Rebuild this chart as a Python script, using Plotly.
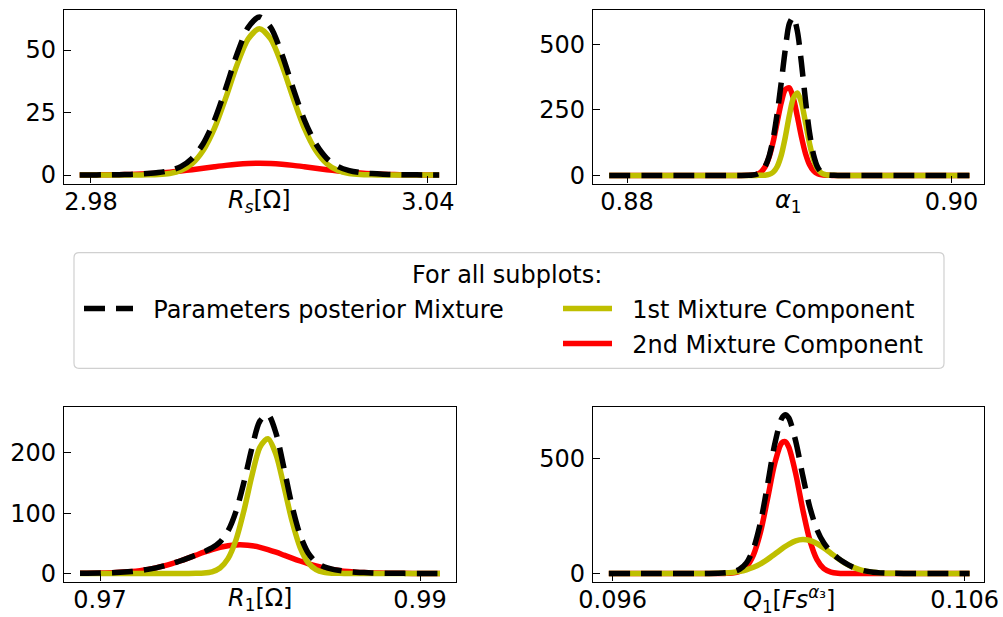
import plotly.graph_objects as go

# ---------------- data ----------------
# Panel 1 : R_s [Ohm]
rs_x = [2.978, 2.980, 2.982, 2.984, 2.986, 2.988, 2.990, 2.992, 2.994, 2.996, 2.998,
        3.000, 3.002, 3.004, 3.006, 3.008, 3.010, 3.012, 3.014, 3.016, 3.018, 3.020,
        3.022, 3.024, 3.026, 3.028, 3.030, 3.032, 3.034, 3.036, 3.038, 3.040, 3.042]
rs_mix = [0.02, 0.03, 0.06, 0.11, 0.19, 0.32, 0.56, 0.96, 1.76, 3.37, 6.63, 12.59, 22.02,
          34.68, 48.29, 59.06, 63.2, 59.06, 48.29, 34.68, 22.02, 12.59, 6.63, 3.37, 1.76,
          0.96, 0.56, 0.32, 0.19, 0.11, 0.06, 0.03, 0.02]
rs_c1 = [0, 0, 0, 0, 0, 0, 0.05, 0.18, 0.61, 1.78, 4.51, 9.89, 18.72, 30.83, 43.99, 54.46,
         58.5, 54.46, 43.99, 30.83, 18.72, 9.89, 4.51, 1.78, 0.61, 0.18, 0.05, 0, 0, 0, 0, 0, 0]
rs_c2 = [0.02, 0.03, 0.06, 0.11, 0.19, 0.32, 0.51, 0.78, 1.15, 1.59, 2.12, 2.70, 3.30, 3.85,
         4.30, 4.60, 4.70, 4.60, 4.30, 3.85, 3.30, 2.70, 2.12, 1.59, 1.15, 0.78, 0.51, 0.32,
         0.19, 0.11, 0.06, 0.03, 0.02]

# Panel 2 : alpha_1
a1_x = [0.8789, 0.8810, 0.8830, 0.8850, 0.8860, 0.8870,
        0.88750, 0.88775, 0.88800, 0.88825, 0.88850, 0.88875, 0.88900, 0.88925, 0.88950,
        0.88975, 0.89000, 0.89025, 0.89050, 0.89075, 0.89100, 0.89125, 0.89150, 0.89175,
        0.89200, 0.89225, 0.89250, 0.89275, 0.89300,
        0.8950, 0.8970, 0.8990, 0.9011]
a1_mix = [0, 0, 0, 0, 0, 0,
          0.35, 1.35, 4.5, 13.2, 33.0, 72.3, 138.7, 235.2, 353.5, 480, 580, 605, 550, 428,
          286, 162, 77, 30.6, 10.1, 2.8, 0.6, 0.1, 0.0,
          0, 0, 0, 0]
a1_c1 = [0, 0, 0, 0, 0, 0,
         0.0, 0.0, 0.03, 0.17, 0.86, 3.5, 11.9, 33.2, 76.5, 145.4, 228.2, 295.3, 315.2,
         277.6, 201.7, 120.9, 59.8, 24.4, 8.2, 2.3, 0.5, 0.1, 0.0,
         0, 0, 0, 0]
a1_c2 = [0, 0, 0, 0, 0, 0,
         0.35, 1.35, 4.5, 13.0, 32.1, 68.8, 126.8, 202.0, 277.0, 327.9, 334.8, 294.8,
         223.9, 146.7, 82.8, 40.4, 17.0, 6.2, 1.9, 0.5, 0.1, 0.0, 0.0,
         0, 0, 0, 0]

# Panel 3 : R_1 [Ohm]
r1_x = [0.96875, 0.9700, 0.9710, 0.9720, 0.9725, 0.9730, 0.9735, 0.9740, 0.9745, 0.9750,
        0.9755, 0.9760, 0.9765, 0.9770, 0.9775, 0.9780, 0.9785, 0.9790, 0.9795, 0.9800,
        0.9805, 0.9810, 0.9815, 0.9820, 0.9825, 0.9830, 0.9835, 0.9840, 0.9845, 0.9850,
        0.9855, 0.9860, 0.9865, 0.9870, 0.9880, 0.9890, 0.9900, 0.99125]
r1_mix = [0.12, 0.50, 1.34, 3.16, 4.66, 6.65, 9.22, 12.42, 16.2, 20.6, 25.4, 30.4, 35.9,
          42.3, 52.2, 70.4, 102.9, 151.8, 208.5, 252.9, 263.1, 232.5, 174.4, 112.4, 64.2,
          34.3, 18.6, 11.0, 7.06, 4.74, 3.17, 2.09, 1.34, 0.83, 0.29, 0.09, 0.03, 0.0]
r1_c1 = [0, 0, 0, 0, 0, 0, 0, 0, 0, 0.0, 0.02, 0.14, 0.67, 2.69, 8.9, 24.5, 55.6, 104.5,
         162.6, 209.6, 223.5, 197.3, 144.1, 87.1, 43.6, 18.1, 6.2, 1.76, 0.41, 0.08, 0.01,
         0, 0, 0, 0, 0, 0, 0]
r1_c2 = [0.12, 0.50, 1.34, 3.16, 4.66, 6.65, 9.22, 12.42, 16.2, 20.6, 25.35, 30.3, 35.2,
         39.6, 43.3, 45.9, 47.3, 47.3, 45.9, 43.3, 39.6, 35.2, 30.3, 25.35, 20.6, 16.2,
         12.42, 9.22, 6.65, 4.66, 3.16, 2.09, 1.34, 0.83, 0.29, 0.09, 0.03, 0.0]

# Panel 4 : Q_1 [F s^alpha_3]
q1_x = [0.09589, 0.0970, 0.0980, 0.0985, 0.0990, 0.0992, 0.0994, 0.0996, 0.0998, 0.1000,
        0.1002, 0.1004, 0.1006, 0.1008, 0.1009, 0.1010, 0.1012, 0.1014, 0.1016, 0.1018,
        0.1020, 0.1022, 0.1024, 0.1026, 0.1028, 0.1030, 0.1032, 0.1034, 0.1036, 0.1038,
        0.1040, 0.1045, 0.1050, 0.1060, 0.10614]
q1_mix = [0, 0, 0, 0.11, 1.13, 2.75, 6.92, 18.0, 46.2, 108.7, 223.2, 387.6, 561.9, 676.7,
          693.5, 679.9, 577.6, 427.2, 289.7, 192.8, 132.7, 94.6, 67.2, 45.95, 29.74, 18.0,
          10.2, 5.43, 2.69, 1.25, 0.54, 0.05, 0, 0, 0]
q1_c1 = [0, 0, 0, 0.11, 1.06, 2.32, 4.74, 9.06, 16.2, 27.0, 42.2, 61.5, 83.9, 107.0, 117.8,
         127.5, 142.1, 147.9, 144.0, 131.0, 111.4, 88.6, 65.8, 45.7, 29.7, 18.0, 10.2, 5.43,
         2.69, 1.25, 0.54, 0.05, 0, 0, 0]
q1_c2 = [0, 0, 0, 0, 0.07, 0.43, 2.18, 8.96, 30.0, 81.7, 181.0, 326.1, 478.0, 569.7, 575.7,
         552.4, 435.5, 279.3, 145.7, 61.8, 21.3, 5.98, 1.37, 0.25, 0.04, 0, 0, 0, 0, 0, 0,
         0, 0, 0, 0]

series_names = ["Parameters posterior Mixture", "1st Mixture Component", "2nd Mixture Component"]
axis_labels = ["<i>R</i><sub><i>s</i></sub>[Ω]",
               "<i>α</i><sub>1</sub>",
               "<i>R</i><sub>1</sub>[Ω]",
               "<i>Q</i><sub>1</sub>[<i>Fs</i><sup><i>α</i>₃</sup>]"]
x_tick_vals = [[2.98, 3.04], [0.88, 0.90], [0.97, 0.99], [0.096, 0.106]]
x_tick_text = [["2.98", "3.04"], ["0.88", "0.90"], ["0.97", "0.99"], ["0.096", "0.106"]]
y_tick_vals = [[0, 25, 50], [0, 250, 500], [0, 100, 200], [0, 500]]

panels = [
    (rs_x, rs_mix, rs_c1, rs_c2),
    (a1_x, a1_mix, a1_c1, a1_c2),
    (r1_x, r1_mix, r1_c1, r1_c2),
    (q1_x, q1_mix, q1_c1, q1_c2),
]

# ---------------- figure ----------------
W, H = 1003, 617
FONT = "DejaVu Sans"
FS = 24
RED, YEL, BLK = "#ff0000", "#bfbf00", "#000000"
LW = 5.5
PAD = "\u00a0\u00a0"   # extra gap between legend handle and label

x_ranges = [[2.9752, 3.0450], [0.8779, 0.9020], [0.96775, 0.99225], [0.09544, 0.10655]]
y_ranges = [[-3.4, 66.2], [-31, 634], [-13.4, 276], [-35, 727]]
x_domains = [[64 / W, 456 / W], [593 / W, 984 / W], [64 / W, 456 / W], [593 / W, 984 / W]]
y_domains = [[1 - 183.5 / H, 1 - 9.5 / H], [1 - 183.5 / H, 1 - 9.5 / H],
             [1 - 581.5 / H, 1 - 407 / H], [1 - 581.5 / H, 1 - 407 / H]]

fig = go.Figure()
for i, (xs, mix, c1, c2) in enumerate(panels):
    xa = "x" if i == 0 else f"x{i + 1}"
    ya = "y" if i == 0 else f"y{i + 1}"
    first = i == 0
    fig.add_trace(go.Scatter(x=xs, y=c2, mode="lines", name=PAD + series_names[2],
                             line=dict(color=RED, width=LW, shape="spline", smoothing=0.8),
                             xaxis=xa, yaxis=ya, showlegend=first, legend="legend3"))
    fig.add_trace(go.Scatter(x=xs, y=c1, mode="lines", name=PAD + series_names[1],
                             line=dict(color=YEL, width=LW, shape="spline", smoothing=0.8),
                             xaxis=xa, yaxis=ya, showlegend=first, legend="legend2"))
    fig.add_trace(go.Scatter(x=xs, y=mix, mode="lines", name=PAD + series_names[0],
                             line=dict(color=BLK, width=LW, dash="21px,11px",
                                       shape="spline", smoothing=0.8),
                             xaxis=xa, yaxis=ya, showlegend=first, legend="legend"))

layout = dict(
    width=W, height=H,
    margin=dict(l=0, r=0, t=0, b=0, pad=0, autoexpand=False),
    paper_bgcolor="white", plot_bgcolor="white",
    font=dict(family=FONT, size=FS, color="black"),
    showlegend=True,
)

axis_common = dict(showline=True, mirror=True, linecolor="black", linewidth=1.3,
                   ticks="inside", ticklen=7, tickwidth=1.3, tickcolor="black",
                   showgrid=False, zeroline=False, automargin=False,
                   tickfont=dict(family=FONT, size=FS, color="black"))

for i in range(4):
    xk = "xaxis" if i == 0 else f"xaxis{i + 1}"
    yk = "yaxis" if i == 0 else f"yaxis{i + 1}"
    ya = "y" if i == 0 else f"y{i + 1}"
    xa = "x" if i == 0 else f"x{i + 1}"
    layout[xk] = dict(axis_common, domain=x_domains[i], range=x_ranges[i], anchor=ya,
                      tickmode="array", tickvals=x_tick_vals[i], ticktext=x_tick_text[i],
                      ticklabelstandoff=-3)
    layout[yk] = dict(axis_common, domain=y_domains[i], range=y_ranges[i], anchor=xa,
                      tickmode="array", tickvals=y_tick_vals[i],
                      ticktext=[str(v) for v in y_tick_vals[i]], ticklabelstandoff=2)

legend_common = dict(bgcolor="rgba(0,0,0,0)", borderwidth=0, xanchor="left",
                     yanchor="middle", font=dict(family=FONT, size=FS, color="black"),
                     itemwidth=49, itemclick=False, itemdoubleclick=False)
layout["legend"] = dict(legend_common, x=79 / W, y=1 - 309 / H)
layout["legend2"] = dict(legend_common, x=558 / W, y=1 - 309 / H)
layout["legend3"] = dict(legend_common, x=558 / W, y=1 - 344 / H)

# legend frame with rounded corners
L, R, T, B = 74 / W, 944 / W, 1 - 252.7 / H, 1 - 368.3 / H
rx, ry = 5 / W, 5 / H
path = (f"M{L + rx},{T} L{R - rx},{T} Q{R},{T} {R},{T - ry} L{R},{B + ry} "
        f"Q{R},{B} {R - rx},{B} L{L + rx},{B} Q{L},{B} {L},{B + ry} L{L},{T - ry} "
        f"Q{L},{T} {L + rx},{T} Z")
layout["shapes"] = [dict(type="path", xref="paper", yref="paper", path=path,
                         line=dict(color="#d0d0d0", width=1.2), fillcolor="rgba(255,255,255,0.8)",
                         layer="below")]

annotations = [dict(text="For all subplots:", x=507 / W, y=1 - 275 / H, xref="paper",
                    yref="paper", showarrow=False, xanchor="center", yanchor="middle",
                    font=dict(family=FONT, size=FS, color="black"))]
for i in range(4):
    xa = "x" if i == 0 else f"x{i + 1}"
    ya = "y" if i == 0 else f"y{i + 1}"
    annotations.append(dict(text=axis_labels[i], xref=f"{xa} domain", yref=f"{ya} domain",
                            x=0.5, y=0, xanchor="center", yanchor="middle", yshift=-18,
                            showarrow=False, font=dict(family=FONT, size=FS, color="black")))
layout["annotations"] = annotations

fig.update_layout(**layout)
fig.write_html("out.html")
